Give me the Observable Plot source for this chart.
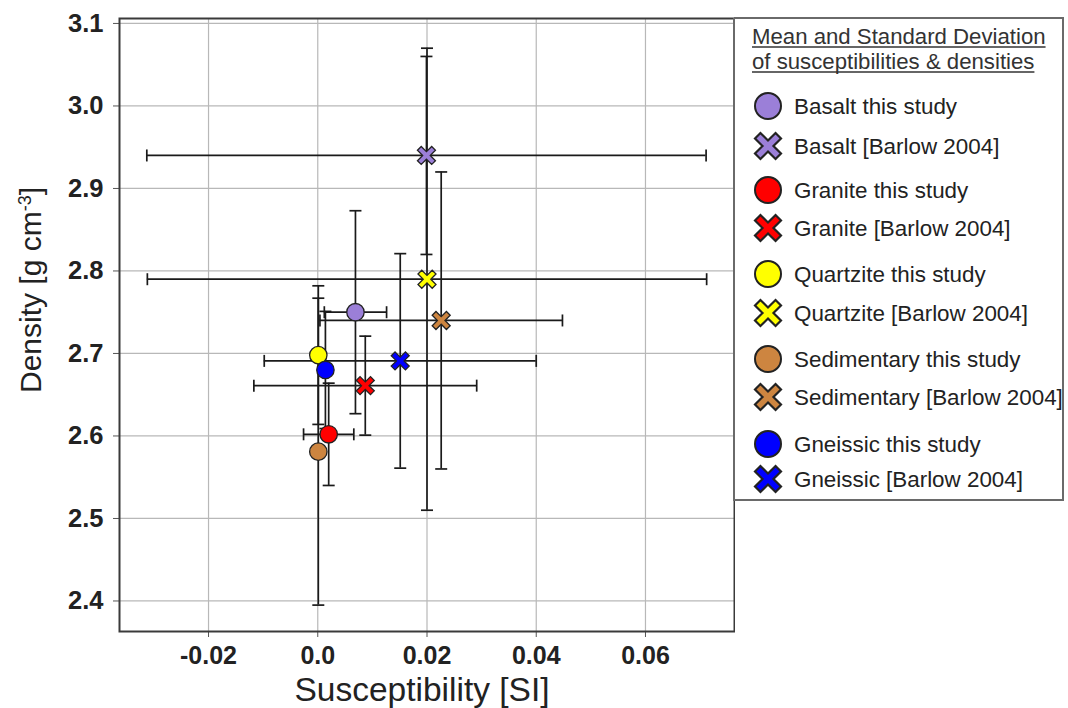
<!DOCTYPE html>
<html>
<head>
<meta charset="utf-8">
<script src="https://cdn.jsdelivr.net/npm/d3@7"></script>
<script src="https://cdn.jsdelivr.net/npm/@observablehq/plot@0.6"></script>
<style>
  html, body { margin: 0; padding: 0; background: #fff; }
  #wrap { position: relative; width: 1068px; height: 708px; overflow: hidden; font-family: "Liberation Sans", Arial, sans-serif; }
  #chart { position: absolute; left: 0; top: 0; }
  #legend { position: absolute; left: 0; top: 0; }
</style>
</head>
<body>
<div id="wrap"><div id="chart"></div><svg id="legend" width="1068" height="708"></svg></div>
<script>
// ---- data ----
const rocks = ["Basalt", "Granite", "Quartzite", "Sedimentary", "Gneissic"];
const colors = ["#9b7fd8", "#ff0000", "#ffff00", "#cd8540", "#0000ff"];
// this study: mean and standard deviation
const studyX    = [0.0069, 0.0020, 0.0001, 0.0001, 0.0014];
const studyXErr = [0.0057, 0.0046, 0, 0, 0];
const studyY    = [2.750, 2.602, 2.698, 2.581, 2.680];
const studyYErr = [0.123, 0.062, 0.084, 0.186, 0.071];
// Barlow 2004: mean and standard deviation
const barlowX    = [0.0199, 0.0087, 0.0200, 0.0226, 0.0151];
const barlowXErr = [0.0512, 0.0204, 0.0512, 0.0222, 0.0249];
const barlowY    = [2.940, 2.661, 2.790, 2.740, 2.691];
const barlowYErr = [0.120, 0.060, 0.280, 0.180, 0.130];
const xTicks = [-0.02, 0.0, 0.02, 0.04, 0.06];
const xTickLabels = ["-0.02", "0.0", "0.02", "0.04", "0.06"];
const yTicks = [2.4, 2.5, 2.6, 2.7, 2.8, 2.9, 3.0, 3.1];

// ---- tables ----
const study = rocks.map((r, i) => ({rock: r, color: colors[i], x: studyX[i], xe: studyXErr[i], y: studyY[i], ye: studyYErr[i]}));
const barlow = rocks.map((r, i) => ({rock: r, color: colors[i], x: barlowX[i], xe: barlowXErr[i], y: barlowY[i], ye: barlowYErr[i]}));
const all = study.concat(barlow);
const withX = all.filter(d => d.xe > 0);

// ---- custom symbols ----
function xPath(ctx, r) {
  const a = r, k = r * 0.42;
  const pts = [[-a, -a + k], [-a + k, -a], [0, -k], [a - k, -a], [a, -a + k], [k, 0],
               [a, a - k], [a - k, a], [0, k], [-a + k, a], [-a, a - k], [-k, 0]];
  ctx.moveTo(pts[0][0], pts[0][1]);
  for (let i = 1; i < pts.length; i++) ctx.lineTo(pts[i][0], pts[i][1]);
  ctx.closePath();
}
const xSymbol = { draw(ctx, size) { xPath(ctx, Math.sqrt(size / Math.PI)); } };
const hCap = { draw(ctx, size) { const r = Math.sqrt(size / Math.PI); ctx.moveTo(-r, 0); ctx.lineTo(r, 0); } };
const vCap = { draw(ctx, size) { const r = Math.sqrt(size / Math.PI); ctx.moveTo(0, -r); ctx.lineTo(0, r); } };

const barStroke = "#1a1a1a";
const plot = Plot.plot({
  width: 735, height: 708,
  marginLeft: 119, marginRight: 1, marginTop: 18, marginBottom: 77,
  style: { fontFamily: "'Liberation Sans', Arial, sans-serif", color: "#222", background: "transparent" },
  x: { domain: [-0.0363, 0.0763] },
  y: { domain: [2.363, 3.106] },
  marks: [
    Plot.gridX(xTicks, { stroke: "#b8b8b8", strokeOpacity: 1, strokeWidth: 1.2 }),
    Plot.gridY(yTicks, { stroke: "#b8b8b8", strokeOpacity: 1, strokeWidth: 1.2 }),
    Plot.axisX({ ticks: xTicks, tickFormat: d => xTickLabels[xTicks.indexOf(d)], tickSize: 6, tickPadding: 9,
      fontSize: 25, fontWeight: "bold", label: null, stroke: "#555" }),
    Plot.axisY({ ticks: yTicks, tickFormat: d3.format(".1f"), tickSize: 6, tickPadding: 10,
      fontSize: 25.5, fontWeight: "bold", label: null, stroke: "#555" }),
    // vertical error bars
    Plot.ruleX(all, { x: "x", y1: d => d.y - d.ye, y2: d => d.y + d.ye, stroke: barStroke, strokeWidth: 1.7 }),
    Plot.dot(all, { x: "x", y: d => d.y - d.ye, r: 6, symbol: hCap, fill: "none", stroke: barStroke, strokeWidth: 1.7 }),
    Plot.dot(all, { x: "x", y: d => d.y + d.ye, r: 6, symbol: hCap, fill: "none", stroke: barStroke, strokeWidth: 1.7 }),
    // horizontal error bars
    Plot.ruleY(withX, { y: "y", x1: d => d.x - d.xe, x2: d => d.x + d.xe, stroke: barStroke, strokeWidth: 1.7 }),
    Plot.dot(withX, { y: "y", x: d => d.x - d.xe, r: 6, symbol: vCap, fill: "none", stroke: barStroke, strokeWidth: 1.7 }),
    Plot.dot(withX, { y: "y", x: d => d.x + d.xe, r: 6, symbol: vCap, fill: "none", stroke: barStroke, strokeWidth: 1.7 }),
    // markers
    Plot.dot(barlow, { x: "x", y: "y", r: 9, symbol: xSymbol, fill: d => d.color, stroke: "#222", strokeWidth: 1.3 }),
    Plot.dot(study, { x: "x", y: "y", r: 8.7, symbol: "circle", fill: d => d.color, stroke: "#222", strokeWidth: 1.3 }),
    Plot.frame({ stroke: "#3a3a3a", strokeWidth: 2 })
  ]
});
document.getElementById("chart").appendChild(plot);

// axis titles
const ps = d3.select(plot);
ps.append("text").attr("x", 422).attr("y", 701).attr("text-anchor", "middle")
  .attr("font-size", 33.5).attr("fill", "#222").text("Susceptibility [SI]");
const yt = ps.append("text").attr("transform", "translate(41,290) rotate(-90)").attr("text-anchor", "middle")
  .attr("font-size", 30).attr("fill", "#222");
yt.append("tspan").text("Density [g cm");
yt.append("tspan").attr("baseline-shift", "super").attr("font-size", 18).text("-3");
yt.append("tspan").text("]");

// ---- legend ----
const lg = d3.select("#legend");
const L = 734, T = 18, R = 1063, B = 500;
lg.append("path").attr("d", `M${L},${T}H${R}V${B}H${L}V${T}`).attr("fill", "none").attr("stroke", "#6a6a6a").attr("stroke-width", 2);
const titleLines = ["Mean and Standard Deviation", "of susceptibilities & densities"];
titleLines.forEach((t, i) => {
  const y = 44 + i * 25;
  const tx = lg.append("text").attr("x", 752).attr("y", y).attr("font-size", 22.2).attr("fill", "#333").text(t);
  const w = tx.node().getComputedTextLength();
  lg.append("line").attr("x1", 752).attr("x2", 752 + w).attr("y1", y + 3).attr("y2", y + 3).attr("stroke", "#333").attr("stroke-width", 1.4);
});
const rowY = [106, 146, 190, 228, 274, 313, 359, 397, 444, 479];
rocks.forEach((r, i) => {
  const y1 = rowY[2 * i], y2 = rowY[2 * i + 1];
  lg.append("circle").attr("cx", 768).attr("cy", y1).attr("r", 13).attr("fill", colors[i]).attr("stroke", "#222").attr("stroke-width", 2);
  lg.append("text").attr("x", 794).attr("y", y1 + 8).attr("font-size", 22.4).attr("fill", "#222").text(r + " this study");
  const p = d3.path(); xPath(p, 13);
  lg.append("path").attr("d", p.toString()).attr("transform", `translate(768,${y2})`).attr("fill", colors[i]).attr("stroke", "#222").attr("stroke-width", 2.2);
  lg.append("text").attr("x", 794).attr("y", y2 + 8).attr("font-size", 22.4).attr("fill", "#222").text(r + " [Barlow 2004]");
});
</script>
</body>
</html>
